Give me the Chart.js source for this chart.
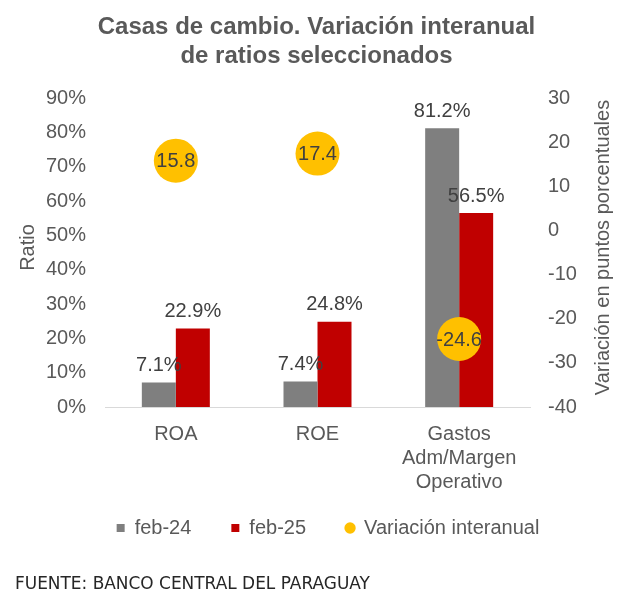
<!DOCTYPE html>
<html>
<head>
<meta charset="utf-8">
<script src="https://cdn.jsdelivr.net/npm/chart.js@4.4.1/dist/chart.umd.min.js"></script>
<style>
  html, body { margin: 0; padding: 0; background: #ffffff; }
  #wrap { width: 621px; height: 603px; position: relative; }
</style>
</head>
<body>
<div id="wrap"><canvas id="c" width="621" height="603"></canvas></div>
<script>
// ---- Data ----
const categories = [["ROA"], ["ROE"], ["Gastos", "Adm/Margen", "Operativo"]];
const seriesNames = ["feb-24", "feb-25", "Variación interanual"];
const feb24 = [7.1, 7.4, 81.2];
const feb25 = [22.9, 24.8, 56.5];
const variacion = [15.8, 17.4, -24.6];
const ratioAxis = { min: 0, max: 90, step: 10 };
const variacionAxis = { min: -40, max: 30, step: 10 };
const titleLines = ["Casas de cambio. Variación interanual", "de ratios seleccionados"];
const leftAxisTitle = "Ratio";
const rightAxisTitle = "Variación en puntos porcentuales";
const sourceNote = "FUENTE: BANCO CENTRAL DEL PARAGUAY";

// ---- Styles ----
const FONT = "'Liberation Sans', Arial, sans-serif";
const GREY_TXT = "#595959";
const LABEL_TXT = "#404040";
const C_GREY = "#7f7f7f";
const C_RED = "#c00000";
const C_YEL = "#ffc000";

const decor = {
  id: 'decor',
  beforeDraw(chart) {
    const ctx = chart.ctx;
    ctx.save();
    ctx.fillStyle = '#ffffff';
    ctx.fillRect(0, 0, chart.width, chart.height);
    ctx.restore();
  },
  afterLayout(chart) {
    // lift the legend row closer to the category labels
    const lg = chart.legend;
    if (lg) { lg.top -= 20; lg.bottom -= 20; }
  },
  afterDatasetsDraw(chart) {
    const ctx = chart.ctx;
    ctx.save();
    ctx.font = "20px " + FONT;
    ctx.fillStyle = LABEL_TXT;
    ctx.textAlign = 'center';
    ctx.textBaseline = 'middle';
    [0, 1].forEach(di => {
      const meta = chart.getDatasetMeta(di);
      const vals = chart.data.datasets[di].data;
      meta.data.forEach((el, i) => {
        ctx.fillText(vals[i].toFixed(1) + '%', el.x, el.y - 17);
      });
    });
    const m2 = chart.getDatasetMeta(2);
    const v2 = chart.data.datasets[2].data;
    m2.data.forEach((el, i) => {
      ctx.fillText(v2[i].toFixed(1), el.x, el.y + 1);
    });
    ctx.restore();
  },
  afterDraw(chart) {
    const ctx = chart.ctx;
    const ca = chart.chartArea;
    ctx.save();
    // Title
    ctx.fillStyle = GREY_TXT;
    ctx.font = "bold 24px " + FONT;
    ctx.textAlign = 'center';
    ctx.textBaseline = 'middle';
    ctx.fillText(titleLines[0], 316.5, 27);
    ctx.fillText(titleLines[1], 316.5, 56);
    // Axis titles
    const midY = (ca.top + ca.bottom) / 2 - 5;
    ctx.font = "20px " + FONT;
    ctx.save();
    ctx.translate(28, midY);
    ctx.rotate(-Math.PI / 2);
    ctx.fillText(leftAxisTitle, 0, 0);
    ctx.restore();
    ctx.save();
    ctx.translate(603, midY);
    ctx.rotate(-Math.PI / 2);
    ctx.fillText(rightAxisTitle, 0, 0);
    ctx.restore();
    // Source note
    ctx.fillStyle = '#262626';
    ctx.textAlign = 'left';
    let fs = 16;
    ctx.font = fs + "px 'DejaVu Sans', sans-serif";
    const w = ctx.measureText(sourceNote).width;
    fs = fs * 355 / w;
    ctx.font = fs.toFixed(2) + "px 'DejaVu Sans', sans-serif";
    ctx.fillText(sourceNote, 15, 585);
    ctx.restore();
  }
};

const tickFont = { family: FONT, size: 20 };

new Chart(document.getElementById('c'), {
  type: 'bar',
  data: {
    labels: categories,
    datasets: [
      { label: seriesNames[0], data: feb24, backgroundColor: C_GREY, borderWidth: 0, yAxisID: 'y',
        categoryPercentage: 0.48, barPercentage: 1.0, order: 2 },
      { label: seriesNames[1], data: feb25, backgroundColor: C_RED, borderWidth: 0, yAxisID: 'y',
        categoryPercentage: 0.48, barPercentage: 1.0, order: 2 },
      { type: 'line', label: seriesNames[2], data: variacion, yAxisID: 'y1', showLine: false,
        backgroundColor: C_YEL, borderColor: C_YEL, pointBackgroundColor: C_YEL, pointBorderWidth: 0,
        pointRadius: 22, pointHoverRadius: 22, pointStyle: 'circle', order: 0 }
    ]
  },
  options: {
    responsive: false,
    animation: false,
    devicePixelRatio: 1,
    events: [],
    layout: { padding: { top: 98, left: 35, right: 0, bottom: 35 } },
    plugins: {
      title: { display: false },
      tooltip: { enabled: false },
      legend: {
        position: 'bottom',
        labels: {
          usePointStyle: true,
          boxWidth: 8,
          boxHeight: 8,
          padding: 40,
          color: GREY_TXT,
          font: { family: FONT, size: 20 },
          sort: (a, b) => a.datasetIndex - b.datasetIndex,
          generateLabels(chart) {
            const items = Chart.defaults.plugins.legend.labels.generateLabels(chart);
            const cols = [C_GREY, C_RED, C_YEL];
            items.forEach(it => {
              const di = it.datasetIndex;
              it.pointStyle = di === 2 ? 'circle' : 'rect';
              it.fillStyle = cols[di];
              it.strokeStyle = cols[di];
              it.lineWidth = 0;
            });
            return items;
          }
        }
      }
    },
    scales: {
      x: {
        grid: { display: false, drawTicks: false },
        border: { display: true, color: '#d9d9d9', width: 1 },
        ticks: { padding: 15, color: GREY_TXT, font: tickFont, maxRotation: 0, autoSkip: false },
        afterFit(s) { s.height = 91; }
      },
      y: {
        position: 'left',
        min: ratioAxis.min, max: ratioAxis.max,
        grid: { display: false, drawTicks: false },
        border: { display: false },
        ticks: { stepSize: ratioAxis.step, padding: 19, color: GREY_TXT, font: tickFont,
                 callback: v => v + '%' },
        afterFit(s) { s.width = 70; }
      },
      y1: {
        position: 'right',
        min: variacionAxis.min, max: variacionAxis.max,
        grid: { display: false, drawTicks: false },
        border: { display: false },
        ticks: { stepSize: variacionAxis.step, padding: 18, color: GREY_TXT, font: tickFont },
        afterFit(s) { s.width = 91; }
      }
    }
  },
  plugins: [decor]
});
</script>
</body>
</html>
